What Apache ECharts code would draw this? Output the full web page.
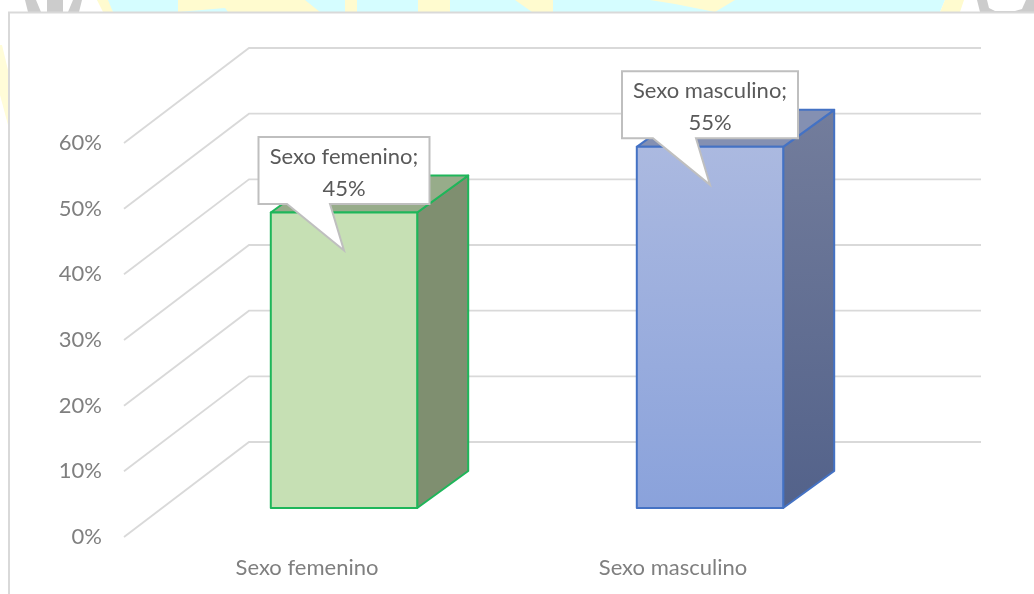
<!DOCTYPE html>
<html>
<head>
<meta charset="utf-8">
<title>Sexo</title>
<script src="https://cdn.jsdelivr.net/npm/echarts@6/dist/echarts.min.js"></script>
<style>
  html, body { margin: 0; padding: 0; background: #fff; }
  #main { width: 1034px; height: 594px; }
</style>
</head>
<body>
<div id="main"></div>
<script>
  var categories = ['Sexo femenino', 'Sexo masculino'];
  var percentValues = [45, 55];
  var gridValues = [0, 10, 20, 30, 40, 50, 60];

  var fontName = 'Lato, "Open Sans", sans-serif';
  var gridColor = '#d9d9d9';
  // depth of the fake 3d box, in pixels
  var floorDepth = [125, -95];
  var barOffset = [37, -29];
  var barDepth = [51, -37];

  var barStyles = [
    { border: '#1fb65a', front: ['#c6e0b4', '#c6e0b4'], side: ['#7f8f70', '#7f8f70'], top: '#97ac8a' },
    { border: '#4472c4', front: ['#abb9e0', '#8aa2db'], side: ['#737d9c', '#53628a'], top: '#8490b2' }
  ];

  function vertical(c) {
    return new echarts.graphic.LinearGradient(0, 0, 0, 1, [
      { offset: 0, color: c[0] },
      { offset: 1, color: c[1] }
    ]);
  }

  function renderGridLine(params, api) {
    var p = api.coord([0, api.value(0)]);
    var x0 = params.coordSys.x;
    var x1 = x0 + params.coordSys.width;
    return {
      type: 'polyline',
      shape: { points: [[x0, p[1]], [x0 + floorDepth[0], p[1] + floorDepth[1]], [x1 + floorDepth[0], p[1] + floorDepth[1]]] },
      style: { stroke: gridColor, lineWidth: 1.8, fill: null }
    };
  }

  function renderBar(params, api) {
    var i = params.dataIndex;
    var s = barStyles[i];
    var base = api.coord([i, 0]);
    var head = api.coord([i, api.value(1)]);
    var half = api.size([1, 0])[0] * 0.2;
    var l = base[0] + barOffset[0] - half;
    var r = base[0] + barOffset[0] + half;
    var b = base[1] + barOffset[1];
    var t = head[1] + barOffset[1];
    var dx = barDepth[0];
    var dy = barDepth[1];
    var line = { stroke: s.border, lineWidth: 2, lineJoin: 'round' };
    return {
      type: 'group',
      children: [
        { type: 'polygon', shape: { points: [[r, t], [r + dx, t + dy], [r + dx, b + dy], [r, b]] },
          style: Object.assign({ fill: vertical(s.side) }, line) },
        { type: 'polygon', shape: { points: [[l, t], [l + dx, t + dy], [r + dx, t + dy], [r, t]] },
          style: Object.assign({ fill: s.top }, line) },
        { type: 'rect', shape: { x: l, y: t, width: r - l, height: b - t },
          style: Object.assign({ fill: vertical(s.front) }, line) }
      ]
    };
  }

  // speech bubble label above each bar
  function renderCallout(params, api) {
    var i = params.dataIndex;
    var head = api.coord([i, api.value(1)]);
    var cx = head[0] + barOffset[0];
    var t = head[1] + barOffset[1];
    var hw = i === 0 ? 85.5 : 88;
    var top = t - 75.5;
    var bottom = t - 8.5;
    return {
      type: 'group',
      children: [
        { type: 'polygon',
          shape: { points: [
            [cx - hw, top], [cx + hw, top], [cx + hw, bottom],
            [cx - 14, bottom], [cx, t + 38], [cx - 57, bottom], [cx - hw, bottom]
          ] },
          style: { fill: '#fff', stroke: '#bfbfbf', lineWidth: 2 } },
        { type: 'text',
          style: {
            text: categories[i] + ';\n' + api.value(1) + '%',
            x: cx, y: (top + bottom) / 2 + 2,
            align: 'center', verticalAlign: 'middle',
            font: '22px ' + fontName, lineHeight: 32, fill: '#595959'
          } }
      ]
    };
  }

  // bits of the page behind the chart
  var cyan = '#d5fdff';
  var yellow = '#fffbcf';
  var backdrop = [
    { type: 'polygon', shape: { points: [[97, 0], [945, 0], [940, 12], [113, 12]] }, style: { fill: cyan } },
    { type: 'polygon', shape: { points: [[97, 0], [108, 0], [113, 12], [103, 12]] }, style: { fill: yellow } },
    { type: 'polygon', shape: { points: [[178, 0], [305, 0], [320, 12], [228, 12], [225, 8], [178, 12]] }, style: { fill: yellow } },
    { type: 'polygon', shape: { points: [[345, 0], [357, 0], [357, 12], [345, 12]] }, style: { fill: yellow } },
    { type: 'polygon', shape: { points: [[418, 0], [450, 0], [450, 12], [418, 12]] }, style: { fill: yellow } },
    { type: 'polygon', shape: { points: [[515, 0], [553, 0], [553, 12], [532, 12]] }, style: { fill: yellow } },
    { type: 'polygon', shape: { points: [[650, 0], [735, 0], [715, 12], [675, 4]] }, style: { fill: yellow } },
    { type: 'polygon', shape: { points: [[945, 0], [964, 0], [960, 12], [940, 12]] }, style: { fill: yellow } },
    { type: 'polygon', shape: { points: [[0, 45], [2, 45], [8, 70], [8, 125], [0, 95]] }, style: { fill: '#fffcd8' } },
    { type: 'polygon', shape: { points: [[25, 0], [82, 0], [79, 12], [28, 12]] }, style: { fill: '#cccccc' } },
    { type: 'polygon', shape: { points: [[36, 0], [47, 0], [47, 12], [41, 12]] }, style: { fill: '#fff' } },
    { type: 'polygon', shape: { points: [[63, 0], [73, 0], [68, 12], [63, 12]] }, style: { fill: '#fff' } },
    { type: 'polygon', shape: { points: [[977, 0], [1034, 0], [1034, 12], [980, 12]] }, style: { fill: '#cccccc' } },
    { type: 'polygon', shape: { points: [[987, 0], [1026, 0], [1022, 9], [1015, 11], [995, 11], [989, 8]] }, style: { fill: '#fff' } },
    { type: 'polyline', shape: { points: [[9, 594], [9, 12.5], [1034, 12.5]] }, style: { stroke: gridColor, lineWidth: 2, fill: null } }
  ];

  var chart = echarts.init(document.getElementById('main'));
  chart.setOption({
    animation: false,
    backgroundColor: '#fff',
    textStyle: { fontFamily: fontName },
    graphic: { elements: backdrop },
    grid: { left: 124, top: 143, width: 732, height: 394 },
    xAxis: {
      type: 'category',
      data: categories,
      axisLine: { show: false },
      axisTick: { show: false },
      axisLabel: { color: '#7f7f7f', fontSize: 22, fontFamily: fontName, margin: 20 }
    },
    yAxis: {
      type: 'value',
      min: 0,
      max: 60,
      interval: 10,
      axisLine: { show: false },
      axisTick: { show: false },
      splitLine: { show: false },
      axisLabel: { color: '#7f7f7f', fontSize: 22, fontFamily: fontName, margin: 22, padding: [4, 0, 0, 0], formatter: '{value}%' }
    },
    series: [
      { type: 'custom', name: 'grid', z: 1, silent: true, renderItem: renderGridLine,
        encode: { y: 0 }, data: gridValues },
      { type: 'custom', name: 'bars', z: 2, renderItem: renderBar,
        encode: { x: 0, y: 1 }, data: percentValues.map(function (v, i) { return [i, v]; }) },
      { type: 'custom', name: 'callouts', z: 3, renderItem: renderCallout,
        encode: { x: 0, y: 1 }, data: percentValues.map(function (v, i) { return [i, v]; }) }
    ]
  });
</script>
</body>
</html>
